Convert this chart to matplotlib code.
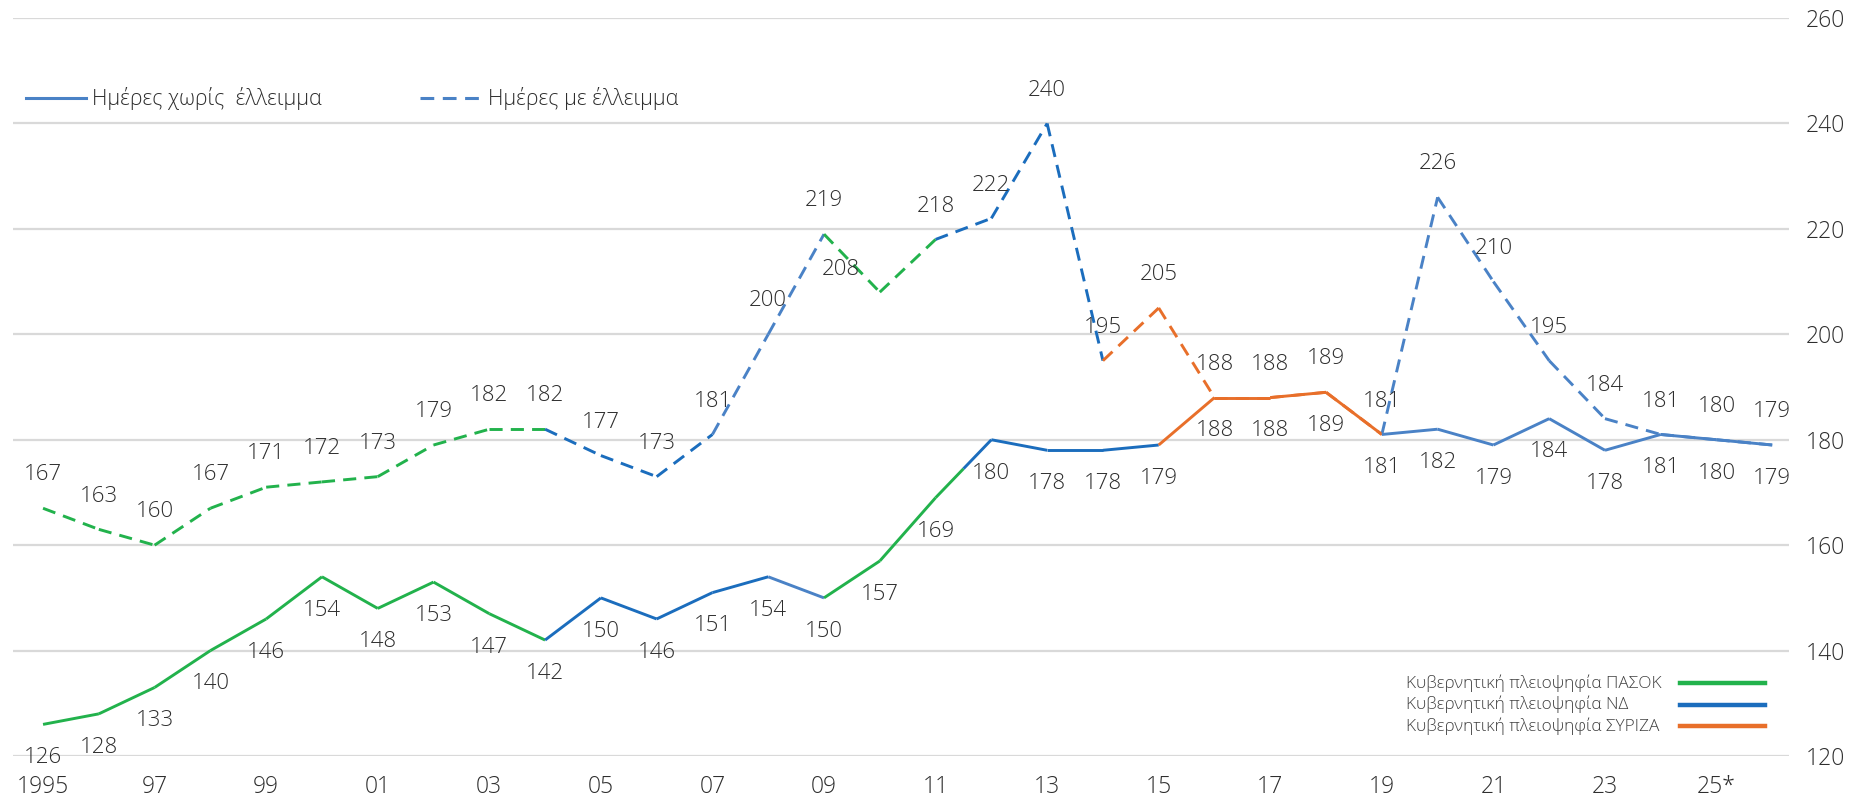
import numpy as np
import matplotlib.pyplot as plt
from matplotlib.lines import Line2D

plt.rcParams['font.family'] = ['Open Sans', 'DejaVu Sans']
plt.rcParams['font.weight'] = 'light'

years = np.arange(1995, 2027)
tick_years = np.arange(1995, 2026, 2)
tick_labels = ['1995', '97', '99', '01', '03', '05', '07', '09',
               '11', '13', '15', '17', '19', '21', '23', '25*']

# days without deficit (solid) and with deficit (dashed)
no_deficit = [126, 128, 133, 140, 146, 154, 148, 153, 147, 142, 150, 146, 151, 154, 150, 157,
              169, 180, 178, 178, 179, 188, 188, 189, 181, 182, 179, 184, 178, 181, 180, 179]
with_deficit = [167, 163, 160, 167, 171, 172, 173, 179, 182, 182, 177, 173, 181, 200, 219, 208,
                218, 222, 240, 195, 205, 188, 188, 189, 181, 226, 210, 195, 184, 181, 180, 179]

# governing majority for each segment between consecutive years
# P = PASOK, N = ND, n = ND (light), S = SYRIZA, PN = changes halfway
party_no_deficit = ['P'] * 9 + ['N'] * 4 + ['n'] + ['P'] * 2 + ['PN'] + ['N'] * 3 + ['S'] * 4 + ['n'] * 7
party_with_deficit = ['P'] * 9 + ['N'] * 3 + ['n'] * 2 + ['P'] * 2 + ['N'] * 3 + ['S'] * 5 + ['n'] * 7

legend_parties = ['Κυβερνητική πλειοψηφία ΠΑΣΟΚ', 'Κυβερνητική πλειοψηφία ΝΔ',
                  'Κυβερνητική πλειοψηφία ΣΥΡΙΖΑ']

colors = {'P': '#22b24c', 'N': '#1b6dbd', 'n': '#4a82c6', 'S': '#e86f2a'}
text_color = '#2e2e2e'

fig = plt.figure(figsize=(18.72, 7.98), dpi=100)
ax = fig.add_axes([0.0069, 0.0526, 0.9488, 0.9248])


def draw_series(values, parties, dashed):
    style = dict(lw=2.1, solid_capstyle='butt')
    if dashed:
        style.update(ls=(0, (4.5, 2.8)), dash_capstyle='butt')
    for i, p in enumerate(parties):
        x0, x1 = years[i], years[i + 1]
        y0, y1 = values[i], values[i + 1]
        if p == 'PN':
            xm, ym = (x0 + x1) / 2, (y0 + y1) / 2
            ax.plot([x0, xm], [y0, ym], color=colors['P'], **style)
            ax.plot([xm, x1], [ym, y1], color=colors['N'], **style)
        else:
            ax.plot([x0, x1], [y0, y1], color=colors[p], **style)


draw_series(with_deficit, party_with_deficit, True)
draw_series(no_deficit, party_no_deficit, False)

for x, v in zip(years, with_deficit):
    off = (0, 24)
    if x == 2010:
        off = (-28, 16)
    ax.annotate(str(v), (x, v), xytext=off, textcoords='offset points',
                ha='center', va='center', fontsize=16, color=text_color)

for x, v in zip(years, no_deficit):
    ax.annotate(str(v), (x, v), xytext=(0, -24), textcoords='offset points',
                ha='center', va='center', fontsize=16, color=text_color)

ax.set_xlim(1994.46, 2026.3)
ax.set_ylim(120, 260)
ax.set_yticks(np.arange(120, 261, 20))
ax.set_xticks(tick_years)
ax.set_xticklabels(tick_labels)
ax.yaxis.tick_right()
ax.tick_params(axis='y', length=0, pad=12, labelsize=16.5, labelcolor=text_color)
ax.tick_params(axis='x', length=0, pad=14, labelsize=16.5, labelcolor=text_color)
ax.grid(axis='y', color='#d9d9d9', lw=1.6)
ax.set_axisbelow(True)
for s in ax.spines.values():
    s.set_visible(False)

# top legend
ly = 1 - 98 / 798
fig.add_artist(Line2D([26 / 1872, 86 / 1872], [ly, ly], color=colors['n'], lw=2.2))
fig.text(92 / 1872, ly, 'Ημέρες χωρίς  έλλειμμα', fontsize=15.5, color=text_color, va='center')
fig.add_artist(Line2D([420 / 1872, 482 / 1872], [ly, ly], color=colors['n'], lw=2.2,
                      ls=(0, (4.5, 2.8))))
fig.text(488 / 1872, ly, 'Ημέρες με έλλειμμα', fontsize=15.5, color=text_color, va='center')

# party legend
for k, (label, code) in enumerate(zip(legend_parties, ['P', 'N', 'S'])):
    py = 1 - (683 + k * 21.5) / 798
    fig.text(1406 / 1872, py, label, fontsize=12.4, color='#404040', ha='left', va='center')
    fig.add_artist(Line2D([1680 / 1872, 1765 / 1872], [py, py], color=colors[code], lw=3.2))

fig.savefig('out.png', dpi=100)
